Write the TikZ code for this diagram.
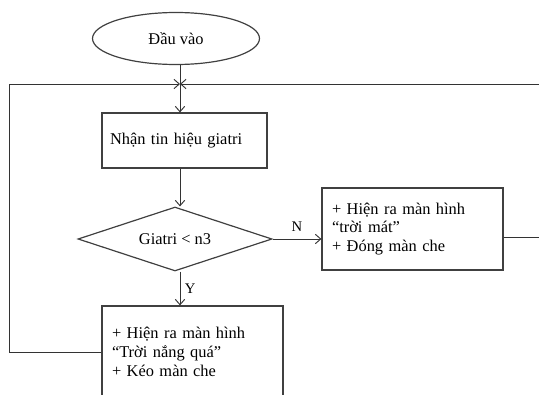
\documentclass[tikz,border=0pt]{standalone}
\usepackage{fontspec}
\setmainfont{Liberation Serif}
\usetikzlibrary{shapes.geometric,arrows.meta}
\tikzset{
  khung/.style={draw=black!75, line width=0.9pt, rectangle, inner sep=0pt},
  chu/.style={font=\fontsize{12.3}{14.2}\selectfont},
  noi/.style={draw=black!80, line width=0.7pt},
  mui/.style={noi, -{Straight Barb[length=4pt,width=7pt]}}
}
\begin{document}
\begin{tikzpicture}[x=0.75pt,y=0.75pt]
\useasboundingbox (0,0) rectangle (539,394);
\clip (0,0) rectangle (539,394);
% cac khoi
\node [khung, ellipse, minimum width=125.25pt, minimum height=39pt, chu] (batdau) at (176,355.5) {Đầu vào};
\node [khung, minimum width=123.75pt, minimum height=41.25pt, chu, text width=111.75pt, align=left] (nhan) at (184.5,253.5) {Nhận tin hiệu giatri};
\node [khung, diamond, aspect=3, minimum width=145.5pt, minimum height=48pt, chu] (ktra) at (175,155) {Giatri < n3};
\node [khung, minimum width=135.75pt, minimum height=61.5pt, chu, text width=120.75pt, align=left] (mat) at (412.5,165)
  {+ Hiện ra màn hình\\“trời mát”\\+ Đóng màn che};
\node [khung, minimum width=135.75pt, minimum height=69pt, chu, text width=120.75pt, align=left] (nong) at (192.5,42)
  {+ Hiện ra màn hình\\“Trời nắng quá”\\+ Kéo màn che};
\coordinate (gop) at (180,310);
\coordinate (trai) at (9,0);
\coordinate (phai) at (560,0);
% duong noi
\draw [noi] (batdau.south -| gop) -- (gop);
\draw [mui] (gop) -- (gop |- nhan.north);
\draw [mui] (nhan.south -| gop) -- (gop |- ktra.north);
\draw [mui] (ktra.south -| gop) -- (nong.north -| gop) node [midway, right, chu, font=\fontsize{11}{12}\selectfont] {Y};
\draw [mui] (ktra.east) -- (ktra.east -| mat.west) node [midway, above=2pt, chu, font=\fontsize{11}{12}\selectfont] {N};
\draw [mui] (nong.west) -- (nong.west -| trai) -- (trai |- gop) -- (gop);
\draw [mui] (mat.east |- 0,157) -- (phai |- 0,157) -- (phai |- gop) -- (gop);
\end{tikzpicture}
\end{document}
